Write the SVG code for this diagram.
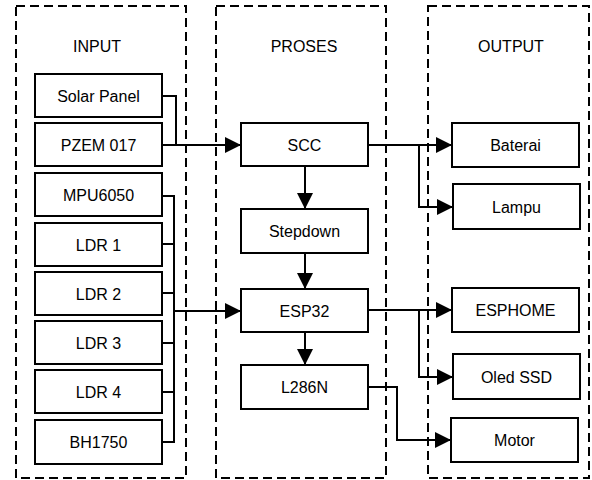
<svg xmlns="http://www.w3.org/2000/svg" width="592" height="480" viewBox="0 0 592 480">
<style>
.grp{fill:none;stroke:#000;stroke-width:2;stroke-dasharray:9 5}
.box{fill:#fff;stroke:#000;stroke-width:2}
text{font-family:"Liberation Sans",Arial,sans-serif;font-size:16px;fill:#000;text-anchor:middle}
.ln{fill:none;stroke:#000;stroke-width:2}
</style>
<defs>
<marker id="ah" markerWidth="16" markerHeight="16" viewBox="0 0 16 16" refX="16" refY="8" markerUnits="userSpaceOnUse" orient="auto">
<path d="M0,0 L16,8 L0,16 Z" fill="#000"/>
</marker>
</defs>
<g id="groups">
<rect class="grp" x="16" y="6" width="170" height="472"/>
<rect class="grp" x="216" y="6" width="170" height="472"/>
<rect class="grp" x="428" y="6" width="161" height="472"/>
<text x="97" y="52">INPUT</text>
<text x="304" y="52">PROSES</text>
<text x="511" y="52">OUTPUT</text>
</g>
<g id="connectors">
<polyline class="ln" points="162,96 176,96 176,145"/>
<line class="ln" x1="162" y1="145" x2="241" y2="145" marker-end="url(#ah)"/>
<polyline class="ln" points="162,196 174,196 174,442 162,442"/>
<line class="ln" x1="162" y1="244" x2="174" y2="244"/>
<line class="ln" x1="162" y1="293" x2="174" y2="293"/>
<line class="ln" x1="162" y1="343" x2="174" y2="343"/>
<line class="ln" x1="162" y1="392" x2="174" y2="392"/>
<line class="ln" x1="174" y1="311" x2="241" y2="311" marker-end="url(#ah)"/>
<line class="ln" x1="305" y1="166" x2="305" y2="209" marker-end="url(#ah)"/>
<line class="ln" x1="305" y1="253" x2="305" y2="289" marker-end="url(#ah)"/>
<line class="ln" x1="305" y1="332" x2="305" y2="365" marker-end="url(#ah)"/>
<line class="ln" x1="368" y1="145" x2="452" y2="145" marker-end="url(#ah)"/>
<polyline class="ln" points="419,145 419,207 453,207" marker-end="url(#ah)"/>
<line class="ln" x1="368" y1="310" x2="452" y2="310" marker-end="url(#ah)"/>
<polyline class="ln" points="419,310 419,377 453,377" marker-end="url(#ah)"/>
<polyline class="ln" points="368,387 397,387 397,440 451,440" marker-end="url(#ah)"/>
</g>
<g id="solar"><rect class="box" x="35" y="74" width="127" height="43"/><text x="98.5" y="101.5">Solar Panel</text></g>
<g id="pzem"><rect class="box" x="35" y="123" width="127" height="43"/><text x="98.5" y="150.5">PZEM 017</text></g>
<g id="mpu"><rect class="box" x="35" y="173" width="127" height="43"/><text x="98.5" y="200.5">MPU6050</text></g>
<g id="ldr1"><rect class="box" x="35" y="223" width="127" height="43"/><text x="98.5" y="250.5">LDR 1</text></g>
<g id="ldr2"><rect class="box" x="35" y="272" width="127" height="43"/><text x="98.5" y="299.5">LDR 2</text></g>
<g id="ldr3"><rect class="box" x="35" y="321" width="127" height="43"/><text x="98.5" y="348.5">LDR 3</text></g>
<g id="ldr4"><rect class="box" x="35" y="370" width="127" height="43"/><text x="98.5" y="397.5">LDR 4</text></g>
<g id="bh1750"><rect class="box" x="35" y="420" width="127" height="44"/><text x="98.5" y="447.5">BH1750</text></g>
<g id="scc"><rect class="box" x="241" y="123" width="127" height="43"/><text x="304.5" y="150.5">SCC</text></g>
<g id="stepdown"><rect class="box" x="241" y="209" width="127" height="44"/><text x="304.5" y="236.5">Stepdown</text></g>
<g id="esp32"><rect class="box" x="241" y="289" width="127" height="43"/><text x="304.5" y="316.5">ESP32</text></g>
<g id="l286n"><rect class="box" x="241" y="365" width="127" height="44"/><text x="304.5" y="392.5">L286N</text></g>
<g id="baterai"><rect class="box" x="452" y="123" width="127" height="44"/><text x="515.5" y="150.5">Baterai</text></g>
<g id="lampu"><rect class="box" x="453" y="184" width="127" height="45"/><text x="516.5" y="212.5">Lampu</text></g>
<g id="esphome"><rect class="box" x="452" y="288" width="127" height="44"/><text x="515.5" y="315.5">ESPHOME</text></g>
<g id="oled"><rect class="box" x="453" y="354" width="127" height="45"/><text x="516.5" y="382.5">Oled SSD</text></g>
<g id="motor"><rect class="box" x="451" y="418" width="127" height="44"/><text x="514.5" y="445.5">Motor</text></g>
</svg>
